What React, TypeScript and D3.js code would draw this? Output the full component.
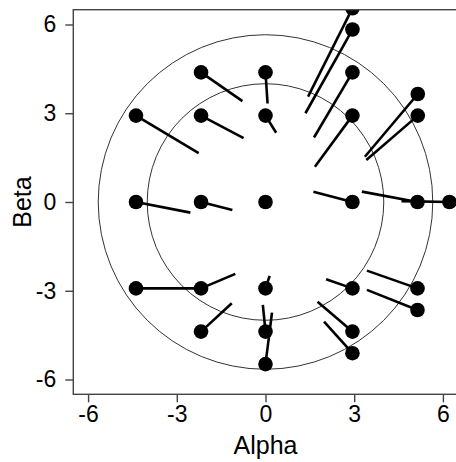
import * as d3 from "d3";
import { useEffect, useRef } from "react";

// start points (Alpha, Beta)
const alpha = [
	-4.38, -2.18, 0, -2.18, 0, -4.38, -2.18, 0, 2.94, 5.14, 6.22, 2.94, 2.94, 2.94,
	2.94, 5.15, 5.15, -4.38, -2.18, -2.18, 0, 0, 0, 2.94, 2.94, 2.94, 5.14, 5.14,
];
const beta = [
	2.92, 4.38, 4.38, 2.92, 2.92, 0, 0, 0, 0, 0, 0, 4.38, 2.92, 5.83, 6.55, 3.65,
	2.92, -2.92, -2.92, -4.38, -2.92, -4.38, -5.48, -2.92, -4.38, -5.11, -2.92,
	-3.65,
];
// segment end points
const alphaEnd = [
	-2.26, -0.78, 0.07, -0.74, 0.36, -2.54, -1.12, 0, 1.62, 3.26, 4.6, 1.64, 1.67,
	1.35, 1.44, 3.36, 3.41, -2.3, -1.02, -1.14, 0.14, -0.09, 0.22, 2.05, 1.76,
	1.98, 3.43, 3.43,
];
const betaEnd = [
	1.65, 3.41, 3.33, 2.16, 2.34, -0.36, -0.27, 0, 0.35, 0.35, 0.03, 2.18, 1.19,
	3.0, 3.56, 1.53, 1.42, -2.92, -2.43, -3.42, -2.5, -3.48, -3.74, -2.61, -3.37,
	-4.04, -2.32, -2.97,
];
const ringRadii = [4, 5.657];
const ticks = [-6, -3, 0, 3, 6];

const W = 456;
const H = 462;

export default function App() {
	const ref = useRef<SVGSVGElement | null>(null);

	useEffect(() => {
		if (!ref.current) return;
		const svg = d3.select(ref.current);
		svg.selectAll("*").remove();

		const x = d3.scaleLinear().domain([-6.5, 6.5]).range([73.3, 457.7]);
		const y = d3.scaleLinear().domain([-6.5, 6.5]).range([394.3, 9.7]);
		const unit = x(1) - x(0);

		svg
			.append("defs")
			.append("clipPath")
			.attr("id", "plot-clip")
			.append("rect")
			.attr("x", x(-6.5))
			.attr("y", y(6.5))
			.attr("width", x(6.5) - x(-6.5))
			.attr("height", y(-6.5) - y(6.5));

		const plot = svg.append("g").attr("clip-path", "url(#plot-clip)");

		plot
			.selectAll("circle.ring")
			.data(ringRadii)
			.join("circle")
			.attr("class", "ring")
			.attr("cx", x(0))
			.attr("cy", y(0))
			.attr("r", (d) => d * unit)
			.attr("fill", "none")
			.attr("stroke", "#333")
			.attr("stroke-width", 1);

		const idx = d3.range(alpha.length);

		plot
			.selectAll("line.seg")
			.data(idx)
			.join("line")
			.attr("class", "seg")
			.attr("x1", (i) => x(alpha[i]))
			.attr("y1", (i) => y(beta[i]))
			.attr("x2", (i) => x(alphaEnd[i]))
			.attr("y2", (i) => y(betaEnd[i]))
			.attr("stroke", "#000")
			.attr("stroke-width", 2.6);

		plot
			.selectAll("circle.pt")
			.data(idx)
			.join("circle")
			.attr("class", "pt")
			.attr("cx", (i) => x(alpha[i]))
			.attr("cy", (i) => y(beta[i]))
			.attr("r", 7.3)
			.attr("fill", "#000");

		// frame
		svg
			.append("rect")
			.attr("x", x(-6.5))
			.attr("y", y(6.5))
			.attr("width", x(6.5) - x(-6.5))
			.attr("height", y(-6.5) - y(6.5))
			.attr("fill", "none")
			.attr("stroke", "#444")
			.attr("stroke-width", 1.4);

		const font = "'Liberation Sans', Arial, sans-serif";
		const fmt = (d: d3.NumberValue) => String(d);

		const xAxis = svg
			.append("g")
			.attr("transform", `translate(0,${y(-6.5)})`)
			.call(
				d3.axisBottom(x).tickValues(ticks).tickFormat(fmt).tickSize(8).tickPadding(3).tickSizeOuter(0),
			);
		const yAxis = svg
			.append("g")
			.attr("transform", `translate(${x(-6.5)},0)`)
			.call(
				d3.axisLeft(y).tickValues(ticks).tickFormat(fmt).tickSize(8).tickPadding(9).tickSizeOuter(0),
			);

		[xAxis, yAxis].forEach((g) => {
			g.select(".domain").remove();
			g.selectAll(".tick line").attr("stroke", "#444").attr("stroke-width", 1.4);
			g.selectAll(".tick text")
				.attr("font-family", font)
				.attr("font-size", 23)
				.attr("fill", "#000");
		});

		svg
			.append("text")
			.attr("x", x(0))
			.attr("y", 454)
			.attr("text-anchor", "middle")
			.attr("font-family", font)
			.attr("font-size", 25)
			.text("Alpha");

		svg
			.append("text")
			.attr("transform", `translate(31,${y(0)}) rotate(-90)`)
			.attr("text-anchor", "middle")
			.attr("font-family", font)
			.attr("font-size", 25)
			.text("Beta");
	}, []);

	return (
		<svg
			ref={ref}
			width={W}
			height={H}
			style={{ position: "absolute", left: 0, top: 0, background: "#fff" }}
		></svg>
	);
}
